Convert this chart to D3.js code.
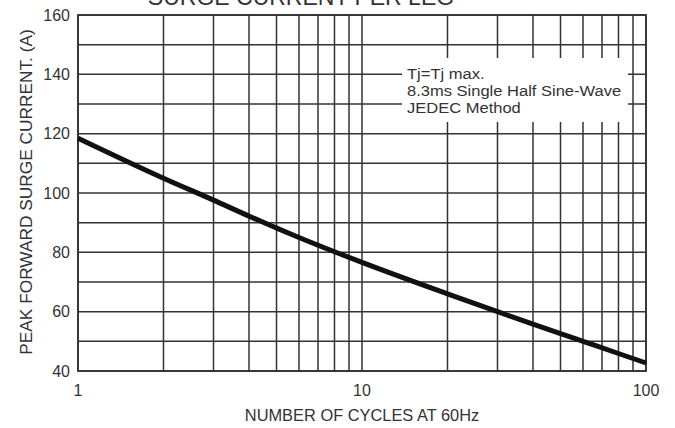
<!DOCTYPE html>
<html>
<head>
<meta charset="utf-8">
<script src="https://cdn.jsdelivr.net/npm/d3@7"></script>
<style>
  body { margin: 0; background: #fff; }
  text { font-family: "Liberation Sans", Arial, sans-serif; fill: #333; }
</style>
</head>
<body>
<div id="chart"></div>
<script>
// surge current curve
var cycles = [1, 2, 3, 4, 5, 6, 8, 10, 20, 30, 40, 50, 60, 80, 100];
var current = [118.5, 105, 97.6, 92.2, 88.2, 85, 80.2, 76.6, 66, 60, 55.8, 52.6, 50, 45.9, 42.7];

var yTicks = [40, 60, 80, 100, 120, 140, 160];
var xTicks = [1, 10, 100];
var noteLines = ["Tj=Tj max.", "8.3ms Single Half Sine-Wave", "JEDEC Method"];

var W = 675, H = 428;
var plotL = 78, plotR = 646, plotT = 15, plotB = 371;

var svg = d3.select("#chart").append("svg")
  .attr("width", W)
  .attr("height", H);

var x = d3.scaleLog().domain([1, 100]).range([plotL, plotR]);
var y = d3.scaleLinear().domain([40, 160]).range([plotB, plotT]);

// grid lines: every integer in each decade, every 10 A
var xGrid = [];
[1, 10].forEach(function (dec) {
  for (var k = 1; k <= 10; k++) xGrid.push(dec * k);
});
xGrid = Array.from(new Set(xGrid));
var yGrid = d3.range(40, 161, 10);

var grid = svg.append("g");
grid.selectAll("line.v")
  .data(xGrid)
  .enter().append("line")
  .attr("class", "v")
  .attr("x1", function (d) { return x(d); })
  .attr("x2", function (d) { return x(d); })
  .attr("y1", plotT)
  .attr("y2", plotB)
  .attr("stroke", "#333")
  .attr("stroke-width", 1.5);

grid.selectAll("line.h")
  .data(yGrid)
  .enter().append("line")
  .attr("class", "h")
  .attr("x1", plotL)
  .attr("x2", plotR)
  .attr("y1", function (d) { return y(d); })
  .attr("y2", function (d) { return y(d); })
  .attr("stroke", "#333")
  .attr("stroke-width", 1.5);

// white box behind the note
svg.append("rect")
  .attr("x", 402)
  .attr("y", 58)
  .attr("width", 226)
  .attr("height", 64)
  .attr("fill", "#fff");

// frame
svg.append("rect")
  .attr("x", plotL)
  .attr("y", plotT)
  .attr("width", plotR - plotL)
  .attr("height", plotB - plotT)
  .attr("fill", "none")
  .attr("stroke", "#333")
  .attr("stroke-width", 1.8);

// curve
var line = d3.line()
  .x(function (d) { return x(d[0]); })
  .y(function (d) { return y(d[1]); })
  .curve(d3.curveMonotoneX);

svg.append("path")
  .datum(d3.zip(cycles, current))
  .attr("d", line)
  .attr("fill", "none")
  .attr("stroke", "#111")
  .attr("stroke-width", 5);

// note text (a bit wider than normal in the scan)
var note = svg.append("g")
  .attr("transform", "translate(407,0) scale(1.14,1)");
note.selectAll("text.note")
  .data(noteLines)
  .enter().append("text")
  .attr("class", "note")
  .attr("x", 0)
  .attr("y", function (d, i) { return 79 + i * 17; })
  .attr("font-size", 14.5)
  .text(function (d) { return d; });

// tick labels
svg.selectAll("text.yt")
  .data(yTicks)
  .enter().append("text")
  .attr("class", "yt")
  .attr("x", 70)
  .attr("y", function (d) { return y(d) + 5.5; })
  .attr("text-anchor", "end")
  .attr("font-size", 16)
  .text(function (d) { return d; });

svg.selectAll("text.xt")
  .data(xTicks)
  .enter().append("text")
  .attr("class", "xt")
  .attr("x", function (d) { return x(d); })
  .attr("y", 396)
  .attr("text-anchor", "middle")
  .attr("font-size", 16)
  .text(function (d) { return d; });

// axis titles
svg.append("text")
  .attr("x", 362)
  .attr("y", 421)
  .attr("text-anchor", "middle")
  .attr("font-size", 16.4)
  .text("NUMBER OF CYCLES AT 60Hz");

svg.append("text")
  .attr("transform", "translate(32,192) rotate(-90)")
  .attr("text-anchor", "middle")
  .attr("font-size", 17.3)
  .text("PEAK FORWARD SURGE CURRENT. (A)");

// chart title, cut off at the top in the source
svg.append("text")
  .attr("x", 301)
  .attr("y", 5)
  .attr("text-anchor", "middle")
  .attr("font-size", 23)
  .text("SURGE CURRENT PER LEG");
</script>
</body>
</html>
